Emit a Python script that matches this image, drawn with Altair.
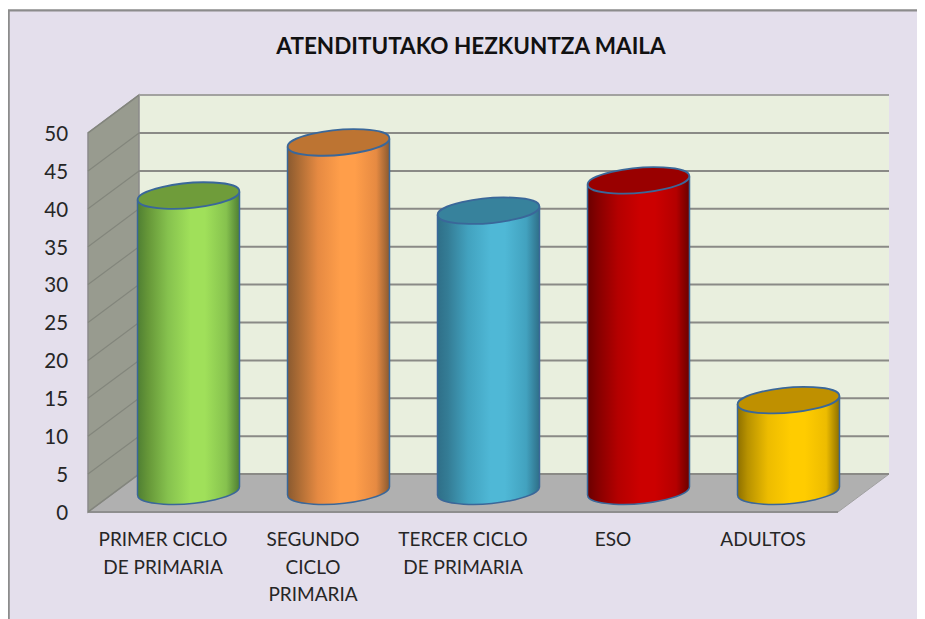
import altair as alt
import pandas as pd

TITLE = "ATENDITUTAKO HEZKUNTZA MAILA"
categories = ["PRIMER CICLO\nDE PRIMARIA", "SEGUNDO\nCICLO\nPRIMARIA", "TERCER CICLO\nDE PRIMARIA", "ESO", "ADULTOS"]
values = [39, 46, 37, 41, 12]
ticks = [0, 5, 10, 15, 20, 25, 30, 35, 40, 45, 50]
mid_colors = ["#A0E05A", "#FF9E4A", "#4FB8D6", "#CC0000", "#FFCC00"]
soft_colors = ["#86C24E", "#E68A42", "#42A2BF", "#B40000", "#EDBC00"]
side_colors = ["#659638", "#A96A34", "#347C95", "#860000", "#B89200"]
edge_colors = ["#4F7F33", "#8A5A30", "#2F6F88", "#6A0000", "#8E7000"]
top_colors = ["#6F9C3A", "#BD7432", "#37829C", "#990000", "#BF9000"]

W, H = 909, 611
PX_X, PX_Y = 150.0, 7.58
x_dom = [-0.5 - 80 / PX_X, -0.5 + (W - 80) / PX_X]
y_dom = [(504 - H) / PX_Y, 504 / PX_Y]
xs = alt.Scale(domain=x_dom, nice=False, zero=False)
ys = alt.Scale(domain=y_dom, nice=False, zero=False)
DX, DY = 0.34, 5.0
BASE, TILT = 2.75, 0.53
ELLIPSE = "M-0.996,0.087A1,0.24,-5,1,1,0.996,-0.087A1,0.24,-5,1,1,-0.996,0.087Z"
STROKE = "#3A6799"


def X(f="x"):
    return alt.X(f, type="quantitative", scale=xs, axis=None)


def Y(f="y"):
    return alt.Y(f, type="quantitative", scale=ys, axis=None)


layers = []
# frame
frame = pd.DataFrame({"x": [-0.5 - 79.3 / PX_X], "x2": [x_dom[1] + 1], "y": [(504 - 2.3) / PX_Y], "y2": [y_dom[0] - 2]})
layers.append(alt.Chart(frame).mark_rect(fill="#E4DFEC", stroke="#8C8C8C", strokeWidth=2.2, clip=True).encode(
    x=X(), x2="x2", y=Y(), y2="y2"))
# back wall
back = pd.DataFrame({"x": [-0.5 + DX], "x2": [4.5 + DX], "y": [DY], "y2": [50 + DY]})
layers.append(alt.Chart(back).mark_rect(fill="#E9EFDE").encode(x=X(), x2="x2", y=Y(), y2="y2"))
# floor
floor = pd.DataFrame({"y": [0, DY], "x": [-0.5, -0.5 + DX], "x2": [4.5, 4.5 + DX]})
layers.append(alt.Chart(floor).mark_area(orient="horizontal", fill="#B0B0B0").encode(y=Y(), x=X(), x2="x2"))
layers.append(alt.Chart(pd.DataFrame({"x": [-0.5], "x2": [4.5], "y": [0]})).mark_rule(color="#8E8E8E", strokeWidth=2).encode(
    x=X(), x2="x2", y=Y()))
layers.append(alt.Chart(pd.DataFrame({"x": [4.5, 4.5 + DX], "y": [0, DY]})).mark_line(color="#A0A0A0", strokeWidth=1).encode(
    x=X(), y=Y()))
# side wall
side = pd.DataFrame({"x": [-0.5, -0.5 + DX], "y": [0, DY], "y2": [50, 50 + DY]})
layers.append(alt.Chart(side).mark_area(fill="#989B8F", stroke="#8A8A8A", strokeWidth=1.5).encode(x=X(), y=Y(), y2="y2"))
# gridlines
inner = ticks[:-1]
grid_back = pd.DataFrame({"x": [-0.5 + DX] * len(inner), "x2": [4.5 + DX] * len(inner), "y": [t + DY for t in inner]})
layers.append(alt.Chart(grid_back).mark_rule(color="#8A8A86", strokeWidth=2).encode(x=X(), x2="x2", y=Y()))
layers.append(alt.Chart(pd.DataFrame({"x": [-0.5 + DX], "x2": [4.5 + DX], "y": [50 + DY]})).mark_rule(color="#A2A2A0", strokeWidth=2).encode(
    x=X(), x2="x2", y=Y()))
grid_side = pd.DataFrame([{"t": t, "x": xx, "y": t + dy} for t in ticks for xx, dy in ((-0.5, 0), (-0.5 + DX, DY))])
layers.append(alt.Chart(grid_side).mark_line(color="#83867C", strokeWidth=1.2).encode(x=X(), y=Y(), detail="t:N"))

# cylinders
for i, v in enumerate(values):
    c = i + DX / 2
    grad = {
        "gradient": "linear", "x1": 0, "x2": 1, "y1": 0, "y2": 0,
        "stops": [
            {"offset": 0, "color": edge_colors[i]},
            {"offset": 0.1, "color": side_colors[i]},
            {"offset": 0.3, "color": soft_colors[i]},
            {"offset": 0.52, "color": mid_colors[i]},
            {"offset": 0.66, "color": mid_colors[i]},
            {"offset": 0.87, "color": soft_colors[i]},
            {"offset": 1, "color": edge_colors[i]},
        ],
    }
    base_df = pd.DataFrame({"x": [c], "y": [BASE]})
    top_df = pd.DataFrame({"x": [c], "y": [BASE + v]})
    body = pd.DataFrame({"x": [c - DX, c + DX], "y": [BASE + v - TILT, BASE + v + TILT], "y2": [BASE - TILT, BASE + TILT]})
    layers.append(alt.Chart(base_df).mark_point(shape=ELLIPSE, size=10404, filled=True, fill=grad, stroke=STROKE, strokeWidth=1.5, opacity=1).encode(x=X(), y=Y()))
    layers.append(alt.Chart(body).mark_area(fill=grad, opacity=1).encode(x=X(), y=Y(), y2="y2"))
    layers.append(alt.Chart(body).mark_rule(color=STROKE, strokeWidth=1.5).encode(x=X(), y=Y(), y2="y2"))
    layers.append(alt.Chart(top_df).mark_point(shape=ELLIPSE, size=10404, filled=True, fill=top_colors[i], stroke=STROKE, strokeWidth=1.8, opacity=1).encode(x=X(), y=Y()))

# axis labels
tick_df = pd.DataFrame({"x": [-0.633] * len(ticks), "y": [t - 0.25 for t in ticks], "t": [str(t) for t in ticks]})
layers.append(alt.Chart(tick_df).mark_text(align="right", baseline="middle", font="Lato", fontSize=20.5, color="#262626").encode(
    x=X(), y=Y(), text="t:N"))
cat_df = pd.DataFrame({"x": list(range(5)), "y": [-2.55] * 5, "t": categories})
layers.append(alt.Chart(cat_df).mark_text(align="center", baseline="top", font="Lato", fontSize=19, lineBreak="\n", lineHeight=27.5, color="#262626").encode(
    x=X(), y=Y(), text="t:N"))

chart = alt.layer(*layers).properties(
    width=W, height=H, padding=0, background="white",
    autosize=alt.AutoSizeParams(type="none"),
    title=alt.TitleParams(TITLE, font="Lato", fontSize=22.5, fontWeight="bold", color="#111111", anchor="middle", dx=8.5, dy=65, baseline="middle"),
).configure_view(strokeWidth=0)

chart.save("out.html", embed_options={"renderer": "svg", "actions": False})
